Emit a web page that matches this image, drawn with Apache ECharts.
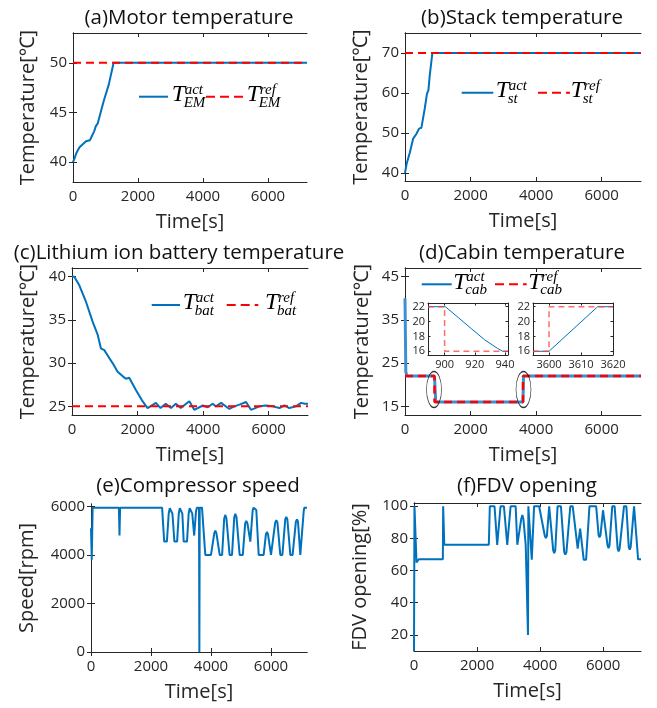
<!DOCTYPE html>
<html><head><meta charset="utf-8">
<script src="https://cdn.jsdelivr.net/npm/echarts@6/dist/echarts.min.js"></script>
<style>html,body{margin:0;padding:0;background:#fff}#c{width:657px;height:708px}</style>
</head><body><div id="c"></div>
<script>
// ---------------- data ----------------
const timeTicks = [0, 2000, 4000, 6000];

const motorAct = [[0,40],[50,40.4],[100,40.9],[200,41.5],[300,41.8],[400,42.1],[520,42.2],[560,42.4],[650,43.1],[700,43.6],[760,43.9],[850,45.0],[950,46.2],[1000,46.3],[1100,47.8],[1250,50],[7200,50]];
const motorRef = [[0,50],[7200,50]];
const motorTicks = [40, 45, 50];

const stackAct = [[0,40],[50,42.3],[150,45.2],[250,48.6],[350,49.8],[430,51.1],[500,51.3],[535,51.3],[600,56],[670,59.8],[715,60.7],[755,64.4],[835,70],[7200,70]];
const stackRef = [[0,70],[7200,70]];
const stackTicks = [40, 50, 60, 70];

const batAct = [[0,40],[70,40],[223,39.0],[426,37.1],[629,34.8],[782,33.3],[883,31.7],[985,31.5],[1137,30.6],[1238,30.0],[1391,29.0],[1543,28.5],[1644,28.2],[1746,28.3],[1797,28.1],[1949,26.9],[2152,25.6],[2304,24.8],[2360,24.7],[2560,25.4],[2700,24.8],[2860,25.3],[3020,24.8],[3170,25.3],[3320,24.8],[3480,25.3],[3580,25.6],[3730,24.6],[3990,25.1],[4140,24.9],[4290,25.3],[4390,25.0],[4550,25.4],[4800,24.7],[4950,25.0],[5110,25.2],[5310,25.5],[5460,24.6],[5720,25.0],[5920,25.1],[6120,25.0],[6330,24.8],[6480,25.1],[6630,24.8],[6830,25.0],[6990,25.4],[7100,25.3],[7200,25.3]];
const batRef = [[0,25],[7200,25]];
const batTicks = [25, 30, 35, 40];

const cabAct = [[0,40],[25,23],[60,22],[900,22],[901,22],[937,16],[3600,16],[3615,22],[7200,22]];
const cabRef = [[0,22],[900,22],[900,16],[3600,16],[3600,22],[7200,22]];
const cabTicks = [15, 25, 35, 45];
const ellipseMarks = [[885,18.9],[3615,18.9]];

const inset1Act = [[889,22],[900.5,22],[909,20.55],[918,19.0],[926.5,17.55],[935,16.4],[938.5,16],[942,16]];
const inset1Ref = [[889,22],[900,22],[900,16],[942,16]];
const inset1XTicks = [900, 920, 940];
const inset2Act = [[3595,16],[3600,16],[3615.2,22],[3620,22]];
const inset2Ref = [[3595,16],[3600,16],[3600,22],[3620,22]];
const inset2XTicks = [3600, 3610, 3620];
const insetYTicks = [16, 18, 20, 22];

const compSpeed = [[0,5100],[25,3800],[55,5950],[930,5950],[950,4800],[970,5950],[2370,5950],[2440,4550],[2530,4550],[2590,5700],[2625,5930],[2650,5950],[2680,5930],[2715,5700],[2780,4550],[2870,4550],[2925,5700],[2960,5930],[2985,5950],[3010,5930],[3045,5700],[3090,4550],[3200,4550],[3255,5700],[3290,5930],[3315,5950],[3340,5930],[3375,5700],[3440,4800],[3500,5800],[3530,5950],[3600,5950],[3612,0],[3624,5950],[3700,5950],[3810,4000],[4000,4000],[4110,4900],[4145,5000],[4180,4900],[4290,4000],[4370,4000],[4440,5500],[4478,5650],[4515,5500],[4620,4000],[4700,4000],[4775,5550],[4811,5700],[4850,5550],[4955,4000],[5060,4000],[5140,5300],[5177,5400],[5215,5300],[5310,4550],[5390,5850],[5420,5950],[5480,5950],[5510,5850],[5590,4000],[5755,4000],[5830,4850],[5866,4950],[5900,4850],[6000,4000],[6050,4000],[6140,5330],[6177,5430],[6215,5330],[6310,4000],[6380,4000],[6475,5470],[6510,5570],[6545,5470],[6644,4000],[6720,4000],[6830,5370],[6866,5470],[6900,5370],[6977,4000],[7033,4000],[7090,5800],[7110,5950],[7200,5950]];
const speedTicks = [0, 2000, 4000, 6000];

const fdvOpen = [[0,10],[15,100],[40,100],[80,65],[150,67],[915,67],[925,100],[945,100],[960,76],[2373,76],[2405,100],[2554,100],[2639,76],[2680,76],[2745,100],[2852,100],[2958,76],[3000,76],[3064,100],[3224,100],[3277,76],[3330,76],[3400,92],[3437,94.5],[3470,92],[3543,76],[3605,76],[3615,20],[3627,100],[3670,100],[3735,66.7],[3809,100],[3969,100],[4150,81.5],[4182,80.2],[4215,81.5],[4288,100],[4341,100],[4415,72.5],[4448,70.9],[4480,72.5],[4554,100],[4660,100],[4765,71.5],[4799,69.9],[4835,71.5],[4958,100],[5033,100],[5192,73.6],[5270,86],[5299,87.1],[5325,86],[5384,66.7],[5458,66.7],[5565,100],[5778,100],[5855,82],[5884,80.7],[5915,82],[5995,97.5],[6022,98.3],[6050,97.5],[6140,75.5],[6171,74],[6200,75.5],[6288,100],[6363,100],[6460,73.5],[6490,72],[6520,73.5],[6661,100],[6735,100],[6812,74.5],[6842,73],[6872,74.5],[6980,100],[7022,100],[7108,67],[7200,67]];
const fdvTicks = [20, 40, 60, 80, 100];

// ---------------- styling / layout ----------------
const BLUE = '#0072BD', RED = '#FF0000', TXT = '#262626';
const FONT = '"Open Sans","Noto Sans","Noto Sans CJK SC",sans-serif';
const SERIF = '"Liberation Serif","DejaVu Serif",serif';

const panels = [
  {grid:{left:73, top:33, width:234, height:149}, x:[0,7200], xt:timeTicks, y:[38,53], yt:motorTicks, yName:'Temperature[℃]', yGap:35},
  {grid:{left:405, top:33, width:236, height:148}, x:[0,7200], xt:timeTicks, y:[38,75], yt:stackTicks, yName:'Temperature[℃]', yGap:34},
  {grid:{left:72, top:268, width:236, height:147}, x:[0,7200], xt:timeTicks, y:[24,41], yt:batTicks, yName:'Temperature[℃]', yGap:34},
  {grid:{left:405, top:268, width:236, height:147}, x:[0,7200], xt:timeTicks, y:[13,47], yt:cabTicks, yName:'Temperature[℃]', yGap:33},
  {grid:{left:91, top:504, width:216, height:148}, x:[0,7200], xt:timeTicks, y:[0,6100], yt:speedTicks, yName:'Speed[rpm]', yGap:54},
  {grid:{left:414, top:503, width:227, height:148}, x:[0,7200], xt:timeTicks, y:[10,102], yt:fdvTicks, yName:'FDV opening[%]', yGap:44},
  {grid:{left:428, top:303, width:80, height:52}, x:[889,942], xt:inset1XTicks, y:[15.5,22.5], yt:insetYTicks, inset:true},
  {grid:{left:533, top:303, width:80, height:52}, x:[3595,3620], xt:inset2XTicks, y:[15.5,22.5], yt:insetYTicks, inset:true}
];

const plain = v => String(v);
const grid = [], xAxis = [], yAxis = [];
panels.forEach((p, g) => {
  const gi = Object.assign({containLabel:false}, p.grid);
  if (p.inset) { gi.show = true; gi.backgroundColor = '#fff'; gi.borderWidth = 0; gi.z = 5; }
  grid.push(gi);
  const fs = p.inset ? 11 : 15;
  const tl = p.inset ? 2.5 : 4;
  const z = p.inset ? 6 : 0;
  const line = {show:true, lineStyle:{color:TXT, width:1}};
  const tick = (vals) => ({show:true, inside:true, length:tl, customValues:vals, lineStyle:{color:TXT, width:1}});
  xAxis.push({type:'value', gridIndex:g, position:'bottom', min:p.x[0], max:p.x[1], z:z,
    axisLine:line, axisTick:tick(p.xt), splitLine:{show:false},
    axisLabel:{customValues:p.xt, formatter:plain, fontSize:fs, color:TXT, fontFamily:FONT, margin:p.inset?4:7},
    name:p.inset?'':'Time[s]', nameLocation:'middle', nameGap:30,
    nameTextStyle:{fontSize:20, color:TXT, fontFamily:FONT}});
  xAxis.push({type:'value', gridIndex:g, position:'top', min:p.x[0], max:p.x[1], z:z,
    axisLine:line, axisTick:tick(p.xt), axisLabel:{show:false}, splitLine:{show:false}});
  yAxis.push({type:'value', gridIndex:g, position:'left', min:p.y[0], max:p.y[1], z:z,
    axisLine:line, axisTick:tick(p.yt), splitLine:{show:false},
    axisLabel:{customValues:p.yt, formatter:plain, fontSize:fs, color:TXT, fontFamily:FONT, margin:p.inset?3:6},
    name:p.inset?'':p.yName, nameLocation:'middle', nameGap:p.yGap||30,
    nameTextStyle:{fontSize:20, color:TXT, fontFamily:FONT}});
  yAxis.push({type:'value', gridIndex:g, position:'right', min:p.y[0], max:p.y[1], z:z,
    axisLine:line, axisTick:tick(p.yt), axisLabel:{show:false}, splitLine:{show:false}});
});

function ln(g, data, color, width, dash, z) {
  return {type:'line', xAxisIndex:2*g, yAxisIndex:2*g, data:data, showSymbol:false, symbol:'none',
    lineStyle:{color:color, width:width, type:dash||'solid'}, itemStyle:{color:color}, z:z||2, animation:false, silent:true};
}

const series = [
  ln(0, motorAct, BLUE, 2), ln(0, motorRef, RED, 2, [8,5]),
  ln(1, stackAct, BLUE, 2), ln(1, stackRef, RED, 2, [8,5]),
  ln(2, batAct, BLUE, 2), ln(2, batRef, RED, 2, [8,5]),
  ln(3, cabAct, '#3d8fd1', 3), ln(3, cabRef, RED, 2.5, [8,5]),
  {type:'scatter', xAxisIndex:6, yAxisIndex:6, data:ellipseMarks, symbol:'circle', symbolSize:[15,36],
    itemStyle:{color:'rgba(0,0,0,0)', borderColor:'#000', borderWidth:1}, z:3, silent:true, animation:false},
  ln(4, compSpeed, BLUE, 2),
  ln(5, fdvOpen, BLUE, 2),
  ln(6, inset1Act, BLUE, 1, null, 8), ln(6, inset1Ref, 'rgba(255,60,60,0.75)', 1.5, [6,4], 8),
  ln(7, inset2Act, BLUE, 1, null, 8), ln(7, inset2Ref, 'rgba(255,60,60,0.75)', 1.5, [6,4], 8)
];

// ---------------- titles & legends (graphic text) ----------------
const titles = [
  ['(a)Motor temperature', 189, 18],
  ['(b)Stack temperature', 522, 18],
  ['(c)Lithium ion battery temperature', 179, 253],
  ['(d)Cabin temperature', 522, 253],
  ['(e)Compressor speed', 198, 486],
  ['(f)FDV opening', 527, 486]
];
const graphic = titles.map(t => ({type:'text', x:t[1], y:t[2], z:10, silent:true,
  style:{text:t[0], font:'20.5px ' + FONT, fill:'#111', align:'center', verticalAlign:'middle'}}));

const legends = [
  {sub:'EM', y:96.7, b:[139,168], t1:171.7, r:[206,245], t2:246.7},
  {sub:'st', y:92.7, b:[461.7,493.3], t1:495.7, r:[538,570], t2:570.7},
  {sub:'bat', y:305, b:[151.7,180], t1:182.7, r:[226.7,258.3], t2:265},
  {sub:'cab', y:284.3, b:[421.7,451.7], t1:453.3, r:[495,526.7], t2:528.3}
];
legends.forEach(L => {
  graphic.push({type:'line', z:10, silent:true, shape:{x1:L.b[0], y1:L.y, x2:L.b[1], y2:L.y}, style:{stroke:BLUE, lineWidth:2}});
  graphic.push({type:'line', z:10, silent:true, shape:{x1:L.r[0], y1:L.y, x2:L.r[1], y2:L.y}, style:{stroke:RED, lineWidth:2, lineDash:[9,5]}});
  [[L.t1,'act'],[L.t2,'ref']].forEach(([x, sup]) => {
    graphic.push({type:'text', x:x, y:L.y-2, z:10, silent:true, style:{text:'T', font:'italic 24px ' + SERIF, fill:'#000', align:'left', verticalAlign:'middle'}});
    graphic.push({type:'text', x:x+13, y:L.y-7, z:10, silent:true, style:{text:sup, font:'italic 15px ' + SERIF, fill:'#000', align:'left', verticalAlign:'middle'}});
    graphic.push({type:'text', x:x+12, y:L.y+6, z:10, silent:true, style:{text:L.sub, font:'italic 15px ' + SERIF, fill:'#000', align:'left', verticalAlign:'middle'}});
  });
});

const chart = echarts.init(document.getElementById('c'), null, {renderer:'canvas'});
chart.setOption({animation:false, backgroundColor:'#fff', grid, xAxis, yAxis, series, graphic});
</script></body></html>
